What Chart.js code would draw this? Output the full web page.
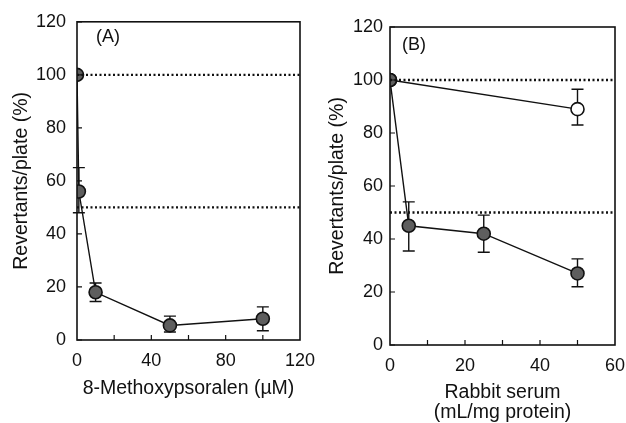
<!DOCTYPE html>
<html>
<head>
<meta charset="utf-8">
<script src="https://cdn.jsdelivr.net/npm/chart.js@4.4.0/dist/chart.umd.min.js"></script>
<style>
html, body { margin: 0; padding: 0; background: #fff; }
#wrapA { position: absolute; left: 0; top: 0; width: 315px; height: 423px; }
#wrapB { position: absolute; left: 315px; top: 0; width: 311px; height: 423px; }
</style>
</head>
<body>
<div id="wrapA"><canvas id="chartA"></canvas></div>
<div id="wrapB"><canvas id="chartB"></canvas></div>
<script>
// panel A: 8-methoxypsoralen
const mopDose = [0, 1, 10, 50, 100]
const mopRevertants = [100, 56, 18, 5.5, 8]
const mopErrHigh = [null, 65, 21.5, 9, 12.5]
const mopErrLow = [null, 48, 14.5, 3, 3.5]

// panel B: rabbit serum (filled = immune serum, open = control)
const serumDose = [0, 5, 25, 50]
const serumRevertants = [100, 45, 42, 27]
const serumErrHigh = [null, 54, 49, 32.5]
const serumErrLow = [null, 35.5, 35, 22]

const controlDose = [0, 50]
const controlRevertants = [100, 89]
const controlErrHigh = [null, 96.5]
const controlErrLow = [null, 83]

const referenceLevels = [100, 50]
const yTicks = [0, 20, 40, 60, 80, 100, 120]
const mopTicks = [0, 40, 80, 120]
const serumTicks = [0, 20, 40, 60]

const fontFamily = "'Liberation Sans', Arial, sans-serif"
Chart.defaults.font.family = fontFamily
Chart.defaults.font.size = 18
Chart.defaults.color = "#111"

const filledColor = "#5e5e5e"
const lineColor = "#111"

function toPoints(xs, ys) {
    return xs.map((x, i) => ({ x: x, y: ys[i] }))
}

function makeFramePlugin(settings) {
    return {
        id: "frame",
        beforeDatasetsDraw(chart) {
            const ctx = chart.ctx
            const xScale = chart.scales.x
            const yScale = chart.scales.y
            ctx.save()
            ctx.strokeStyle = lineColor
            ctx.lineWidth = 1.4
            settings.errorBars.forEach((set) => {
                set.xs.forEach((xv, i) => {
                    if (set.hi[i] === null) return
                    const px = xScale.getPixelForValue(xv)
                    const top = yScale.getPixelForValue(set.hi[i])
                    const bottom = yScale.getPixelForValue(set.lo[i])
                    ctx.beginPath()
                    ctx.moveTo(px, top)
                    ctx.lineTo(px, bottom)
                    ctx.moveTo(px - 6, top)
                    ctx.lineTo(px + 6, top)
                    ctx.moveTo(px - 6, bottom)
                    ctx.lineTo(px + 6, bottom)
                    ctx.stroke()
                })
            })
            ctx.restore()
        },
        afterDraw(chart) {
            const ctx = chart.ctx
            const area = chart.chartArea
            const xScale = chart.scales.x
            const yScale = chart.scales.y
            ctx.save()
            ctx.strokeStyle = lineColor
            ctx.lineWidth = 1.6
            ctx.strokeRect(area.left, area.top, area.right - area.left, area.bottom - area.top)

            // small tick marks pointing into the plot
            ctx.lineWidth = 1.2
            ctx.beginPath()
            settings.xMarks.forEach((v) => {
                const px = xScale.getPixelForValue(v)
                ctx.moveTo(px, area.bottom)
                ctx.lineTo(px, area.bottom - 5)
            })
            yTicks.forEach((v) => {
                const py = yScale.getPixelForValue(v)
                ctx.moveTo(area.left, py)
                ctx.lineTo(area.left + 5, py)
            })
            ctx.stroke()

            ctx.fillStyle = "#111"
            ctx.font = "18px " + fontFamily
            ctx.textBaseline = "middle"
            ctx.fillText(settings.label, area.left + settings.labelDx, area.top + settings.labelDy)
            ctx.restore()
        }
    }
}

function makePanel(canvasId, cfg) {
    const datasets = []
    referenceLevels.forEach((level) => {
        datasets.push({
            data: [{ x: 0, y: level }, { x: cfg.xMax, y: level }],
            showLine: true,
            borderColor: lineColor,
            borderWidth: 2.4,
            borderDash: [2, 2.5],
            pointRadius: 0
        })
    })
    cfg.series.forEach((s) => {
        datasets.push({
            data: toPoints(s.xs, s.ys),
            showLine: true,
            borderColor: lineColor,
            borderWidth: 1.4,
            pointRadius: 6.5,
            pointBorderWidth: 1.6,
            pointBorderColor: lineColor,
            pointBackgroundColor: s.fill
        })
    })

    return new Chart(document.getElementById(canvasId), {
        type: "scatter",
        data: { datasets },
        plugins: [makeFramePlugin(cfg.frame)],
        options: {
            responsive: true,
            maintainAspectRatio: false,
            animation: false,
            layout: { padding: cfg.padding },
            plugins: { legend: { display: false }, tooltip: { enabled: false } },
            scales: {
                x: {
                    type: "linear",
                    min: 0,
                    max: cfg.xMax,
                    afterBuildTicks: (scale) => {
                        scale.ticks = cfg.xTicks.map((v) => ({ value: v }))
                    },
                    afterFit: (scale) => {
                        scale.height = cfg.xAxisHeight
                        // let the layout padding alone decide the plot's right edge
                        scale.paddingLeft = 0
                        scale.paddingRight = 0
                    },
                    grid: { display: false, tickLength: 0 },
                    border: { display: false },
                    ticks: { padding: 10, maxRotation: 0 },
                    title: {
                        display: true,
                        text: cfg.xTitle,
                        padding: 0,
                        font: { size: 19.5, lineHeight: 1.05 }
                    }
                },
                y: {
                    type: "linear",
                    min: 0,
                    max: 120,
                    afterBuildTicks: (scale) => {
                        scale.ticks = yTicks.map((v) => ({ value: v }))
                    },
                    afterFit: (scale) => { scale.width = cfg.yAxisWidth },
                    grid: { display: false, tickLength: 0 },
                    border: { display: false },
                    ticks: { padding: cfg.yTickPad },
                    title: {
                        display: true,
                        text: "Revertants/plate (%)",
                        padding: 0,
                        font: { size: 19.5, lineHeight: 1.1 }
                    }
                }
            }
        }
    })
}

makePanel("chartA", {
    xMax: 120,
    xTicks: mopTicks,
    xTitle: "8-Methoxypsoralen (\u00b5M)",
    xAxisHeight: 59,
    yAxisWidth: 66,
    yTickPad: 11,
    padding: { left: 11, right: 15, top: 20, bottom: 24 },
    series: [{ xs: mopDose, ys: mopRevertants, fill: filledColor }],
    frame: {
        errorBars: [{ xs: mopDose, hi: mopErrHigh, lo: mopErrLow }],
        xMarks: [20, 40, 60, 80, 100],
        label: "(A)",
        labelDx: 19,
        labelDy: 15
    }
})

makePanel("chartB", {
    xMax: 60,
    xTicks: serumTicks,
    xTitle: ["Rabbit serum", "(mL/mg protein)"],
    xAxisHeight: 78,
    yAxisWidth: 63,
    yTickPad: 7,
    padding: { left: 12, right: 11, top: 27, bottom: 0 },
    series: [
        { xs: serumDose, ys: serumRevertants, fill: filledColor },
        { xs: controlDose, ys: controlRevertants, fill: "#fff" }
    ],
    frame: {
        errorBars: [
            { xs: serumDose, hi: serumErrHigh, lo: serumErrLow },
            { xs: controlDose, hi: controlErrHigh, lo: controlErrLow }
        ],
        xMarks: [10, 20, 30, 40, 50],
        label: "(B)",
        labelDx: 12,
        labelDy: 18
    }
})
</script>
</body>
</html>
